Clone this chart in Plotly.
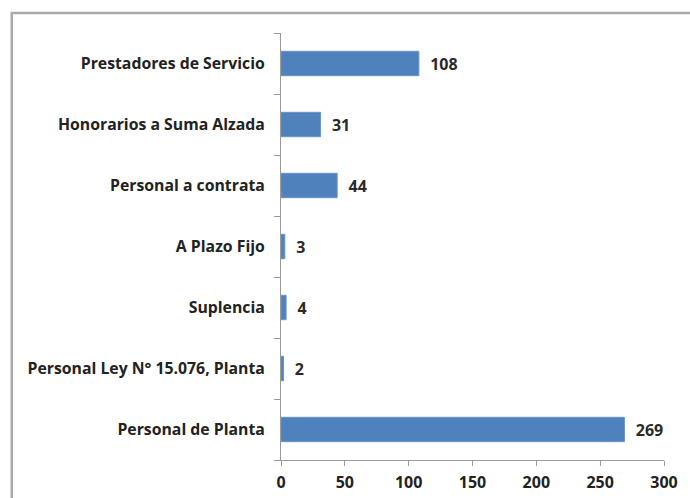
import plotly.graph_objects as go

categories = [
    "Personal de Planta",
    "Personal Ley N° 15.076, Planta",
    "Suplencia",
    "A Plazo Fijo",
    "Personal a contrata",
    "Honorarios a Suma Alzada",
    "Prestadores de Servicio",
]
values = [269, 2, 4, 3, 44, 31, 108]
x_ticks = [0, 50, 100, 150, 200, 250, 300]

font_family = "Open Sans, Liberation Sans, sans-serif"

fig = go.Figure(
    go.Bar(
        y=categories,
        x=values,
        orientation="h",
        marker=dict(color="#4f81bd", line=dict(color="#6a94c8", width=1)),
        texttemplate="  %{x}",
        textposition="outside",
        constraintext="none",
        cliponaxis=False,
        textfont=dict(family=font_family, size=16, color="#2a2a2a", weight="bold"),
    )
)

fig.update_layout(
    width=690,
    height=498,
    margin=dict(l=281, r=26, t=33, b=38, autoexpand=False),
    paper_bgcolor="white",
    plot_bgcolor="white",
    bargap=0.6,
    showlegend=False,
    font=dict(family=font_family, size=12, color="#222222"),
    xaxis=dict(
        range=[0, 300],
        tickvals=x_ticks,
        ticktext=[str(t) for t in x_ticks],
        showgrid=False,
        zeroline=False,
        showline=True,
        linecolor="#999999",
        linewidth=1,
        ticks="outside",
        ticklen=5,
        tickcolor="#999999",
        ticklabelstandoff=3,
        tickfont=dict(family=font_family, size=16, color="#222222", weight="bold"),
        fixedrange=True,
    ),
    yaxis=dict(
        type="category",
        categoryorder="array",
        categoryarray=categories,
        showgrid=False,
        zeroline=False,
        showline=True,
        linecolor="#999999",
        linewidth=1,
        ticks="outside",
        tickson="boundaries",
        ticklen=6,
        tickcolor="#999999",
        ticklabelstandoff=12,
        tickfont=dict(family=font_family, size=15.8, color="#222222", weight="bold"),
        fixedrange=True,
    ),
    shapes=[
        dict(
            type="rect",
            xref="paper",
            yref="paper",
            x0=-0.703,
            x1=1.3,
            y0=-0.3,
            y1=1.047,
            line=dict(color="#aaaaaa", width=2.5),
            fillcolor="rgba(0,0,0,0)",
            layer="below",
        )
    ],
)

fig.write_html(
    "out.html",
    config={"displayModeBar": False},
    post_script="document.body.style.margin='0';document.body.style.overflow='hidden';",
)
